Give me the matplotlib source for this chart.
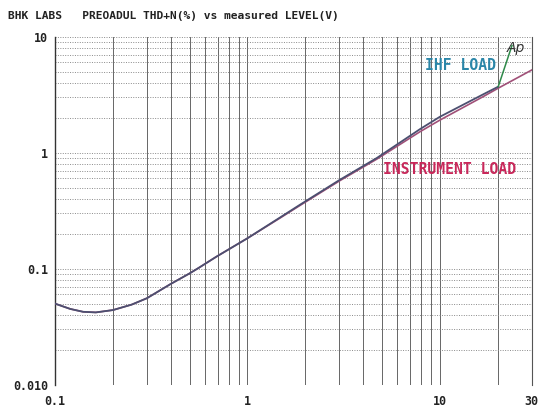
import matplotlib
matplotlib.use("Agg")
import matplotlib.pyplot as plt
from matplotlib.ticker import FixedLocator, NullFormatter, NullLocator

# ---- data ----
level_inst = [0.1, 0.12, 0.14, 0.163, 0.2, 0.25, 0.3, 0.4, 0.5, 0.56, 0.69, 1.0,
              1.47, 1.87, 3.0, 4.7, 7.9, 10.0, 16.7, 20.1, 30.0]
thd_inst = [0.050, 0.045, 0.0425, 0.042, 0.044, 0.049, 0.0556, 0.074, 0.091, 0.102,
            0.127, 0.183, 0.272, 0.35, 0.57, 0.88, 1.52, 1.91, 3.03, 3.6, 5.16]

level_ihf = [0.1, 0.12, 0.14, 0.163, 0.2, 0.25, 0.3, 0.4, 0.5, 0.56, 0.69, 1.0,
             1.47, 1.87, 3.0, 4.7, 7.9, 10.0, 16.7, 20.1]
thd_ihf = [0.050, 0.045, 0.0425, 0.042, 0.044, 0.049, 0.0556, 0.074, 0.091, 0.102,
           0.127, 0.183, 0.275, 0.355, 0.58, 0.9, 1.6, 2.04, 3.17, 3.71]
level_ihf_clip = [20.1, 23.7]
thd_ihf_clip = [3.71, 8.4]

x_ticks = [0.1, 1, 10, 30]
x_ticklabels = ["0.1", "1", "10", "30"]
y_ticks = [0.01, 0.1, 1, 10]
y_ticklabels = ["0.010", "0.1", "1", "10"]

title = "BHK LABS   PREOADUL THD+N(%) vs measured LEVEL(V)"

# ---- figure ----
W, H = 538, 411
fig = plt.figure(figsize=(W / 100, H / 100), dpi=100)
fig.patch.set_facecolor("white")
ax = fig.add_axes([55 / W, 1 - 384.7 / H, (531.7 - 55) / W, (384.7 - 36.7) / H])
ax.set_xscale("log")
ax.set_yscale("log")
ax.set_xlim(0.1, 30)
ax.set_ylim(0.01, 10)

# grid
xminor = [m * 10.0 ** d for d in (-1, 0, 1) for m in range(1, 10) if m * 10.0 ** d <= 30]
yminor = [m * 10.0 ** d for d in (-2, -1, 0) for m in range(1, 10)] + [10]
for xv in xminor:
    ax.axvline(xv, color="#666666", lw=0.7, zorder=1)
for yv in yminor:
    ax.axhline(yv, color="#8a8a8a", lw=0.7, ls=(0, (1, 1.5)), zorder=1)

ax.plot(level_inst, thd_inst, color="#a05078", lw=1.2, zorder=3)
ax.plot(level_ihf, thd_ihf, color="#4c4f70", lw=1.3, zorder=4)
ax.plot(level_ihf_clip, thd_ihf_clip, color="#2f8a4a", lw=1.1, zorder=4)

for s in ("top", "bottom"):
    ax.spines[s].set_visible(False)
ax.spines["left"].set_color("#333333")
ax.spines["left"].set_linewidth(1.0)
ax.spines["right"].set_color("#555555")
ax.spines["right"].set_linewidth(0.8)

ax.xaxis.set_major_locator(FixedLocator(x_ticks))
ax.xaxis.set_minor_locator(NullLocator())
ax.xaxis.set_minor_formatter(NullFormatter())
ax.set_xticklabels(x_ticklabels)
ax.yaxis.set_major_locator(FixedLocator(y_ticks))
ax.yaxis.set_minor_locator(NullLocator())
ax.yaxis.set_minor_formatter(NullFormatter())
ax.set_yticklabels(y_ticklabels)
ax.tick_params(axis="both", length=0, labelsize=8.4, labelcolor="#222222")
ax.tick_params(axis="x", pad=7.5)
ax.tick_params(axis="y", pad=5)
for lab in ax.get_xticklabels() + ax.get_yticklabels():
    lab.set_family("DejaVu Sans Mono")
    lab.set_weight("bold")

fig.text(8 / W, 1 - 16 / H, title, family="DejaVu Sans Mono", weight="bold",
         fontsize=8.1, color="#222222", va="center", ha="left")
fig.text(425 / W, 1 - 66 / H, "IHF LOAD", family="DejaVu Sans Mono",
         fontsize=10.6, color="#2b86a8", va="center", ha="left", weight="bold")
fig.text(383 / W, 1 - 169 / H, "INSTRUMENT LOAD", family="DejaVu Sans Mono",
         fontsize=10.6, color="#c8285a", va="center", ha="left", weight="bold")
fig.text(507 / W, 1 - 48 / H, "Ap", family="DejaVu Sans", style="italic",
         fontsize=10, color="#333333", va="center", ha="left")

fig.savefig("out.png", dpi=100, facecolor="white")
